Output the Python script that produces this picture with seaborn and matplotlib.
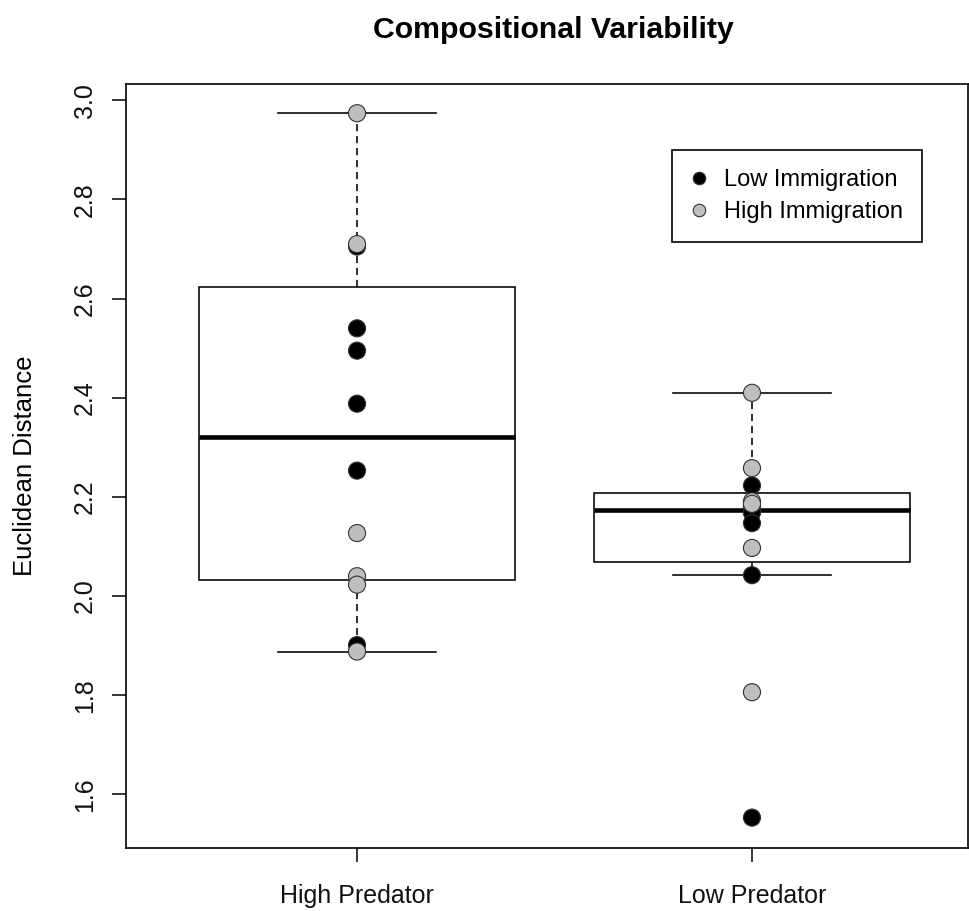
import numpy as np
import pandas as pd
import matplotlib
matplotlib.use("Agg")
import matplotlib.pyplot as plt
from matplotlib.lines import Line2D
from matplotlib.path import Path
import matplotlib.cbook as cbook
import seaborn as sns

# ---------------- data ----------------
predators = ["High Predator", "Low Predator"]
immigration = ["Low Immigration", "High Immigration"]
high_pred_low_imm = [2.540, 2.495, 2.388, 2.253, 1.901, 2.705]
high_pred_high_imm = [2.974, 2.710, 2.127, 2.040, 2.023, 1.888]
low_pred_low_imm = [2.223, 2.180, 2.168, 2.147, 2.042, 1.553]
low_pred_high_imm = [2.410, 2.258, 2.191, 2.186, 2.097, 1.806]
point_colors = {"Low Immigration": "black", "High Immigration": "#BEBEBE"}
yticks = [1.6, 1.8, 2.0, 2.2, 2.4, 2.6, 2.8, 3.0]
title = "Compositional Variability"
ylabel = "Euclidean Distance"

rows = []
for pred, imm, vals in [
    (predators[0], immigration[0], high_pred_low_imm),
    (predators[1], immigration[0], low_pred_low_imm),
    (predators[0], immigration[1], high_pred_high_imm),
    (predators[1], immigration[1], low_pred_high_imm),
]:
    for v in vals:
        rows.append({"Predator": pred, "Immigration": imm, "Distance": v})
df = pd.DataFrame(rows)

# ---------------- style ----------------
FONT = ["Liberation Sans", "DejaVu Sans"]
plt.rcParams["font.family"] = FONT
FS = 18

fig = plt.figure(figsize=(9.70, 9.11), dpi=100)
ax = fig.add_axes([126 / 970, 1 - 848 / 911, 842 / 970, 764 / 911])

LW = 1.15
sns.boxplot(
    data=df, x="Predator", y="Distance", order=predators,
    width=0.8, whis=1.5, showfliers=False, fill=True, color="white",
    linecolor="black", linewidth=LW,
    whiskerprops={"linestyle": (0, (4.5, 3))},
    medianprops={"linewidth": 3.3, "color": "black"},
    ax=ax,
)
for p in ax.patches:
    p.set_facecolor("white")


# R-style boxplot statistics (Tukey hinges) instead of matplotlib percentiles
def tukey_stats(vals, whis=1.5):
    x = np.sort(np.asarray(vals, float))
    n = len(x)
    half = (n + 1) // 2
    lower = x[:half] if n % 2 else x[: n // 2]
    upper = x[n - half:] if n % 2 else x[n // 2:]
    q1, q3 = np.median(lower), np.median(upper)
    iqr = q3 - q1
    lo = x[x >= q1 - whis * iqr].min()
    hi = x[x <= q3 + whis * iqr].max()
    return q1, q3, lo, hi


remaps = {}
for i, pred in enumerate(predators):
    vals = df.loc[df["Predator"] == pred, "Distance"].values
    s = cbook.boxplot_stats(vals, whis=1.5)[0]
    new = tukey_stats(vals)
    remaps[i] = [(s["q1"], new[0]), (s["q3"], new[1]),
                 (s["whislo"], new[2]), (s["whishi"], new[3])]


def remap_y(yarr, gi):
    y = np.array(yarr, float)
    out = y.copy()
    for old, new in remaps[gi]:
        out[np.isclose(y, old, atol=1e-9)] = new
    return out


for ln in ax.lines:
    xd = np.asarray(ln.get_xdata(), float)
    if len(xd) == 0:
        continue
    gi = int(round(xd.mean()))
    if gi in remaps:
        ln.set_ydata(remap_y(ln.get_ydata(), gi))
for p in ax.patches:
    path = p.get_path()
    v = np.array(path.vertices, float)
    gi = int(round(np.nanmean(v[:, 0])))
    if gi in remaps:
        v[:, 1] = remap_y(v[:, 1], gi)
        p.set_path(Path(v, path.codes))

sns.stripplot(
    data=df, x="Predator", y="Distance", hue="Immigration",
    order=predators, hue_order=immigration, palette=point_colors,
    jitter=False, dodge=False, size=12.3, linewidth=0.8,
    edgecolor="#333333", legend=False, ax=ax, zorder=4,
)

# ---------------- axes ----------------
ax.set_xlim(-0.585, 1.547)
ax.set_ylim(1.4917, 3.0329)
ax.set_yticks(yticks)
ax.set_yticklabels([f"{t:.1f}" for t in yticks])
ax.set_xlabel("")
ax.set_ylabel(ylabel, fontsize=18.5, labelpad=26)
ax.tick_params(axis="both", direction="out", length=10, width=1.1,
               color="black", labelsize=FS, labelcolor="#111111")
ax.tick_params(axis="x", pad=16)
ax.tick_params(axis="y", pad=11, labelrotation=90)
for lab in ax.get_yticklabels():
    lab.set_verticalalignment("center")
for sp in ax.spines.values():
    sp.set_visible(True)
    sp.set_color("black")
    sp.set_linewidth(1.2)

ax.set_title(title, fontsize=21.8, fontweight="bold", pad=33, x=0.507)

handles = [
    Line2D([], [], marker="o", linestyle="", markersize=9,
           markerfacecolor=point_colors[k], markeredgecolor="#333333",
           markeredgewidth=0.8, label=k)
    for k in immigration
]
leg = ax.legend(
    handles=handles, loc="upper left", bbox_to_anchor=(0.648, 0.914),
    fontsize=17, frameon=True, fancybox=False, shadow=False,
    borderpad=0.82, labelspacing=0.42, handlelength=0.65,
    handletextpad=0.75, borderaxespad=0,
)
leg.get_frame().set_edgecolor("black")
leg.get_frame().set_linewidth(1.2)
leg.get_frame().set_alpha(1)

fig.savefig("out.png", dpi=100)
